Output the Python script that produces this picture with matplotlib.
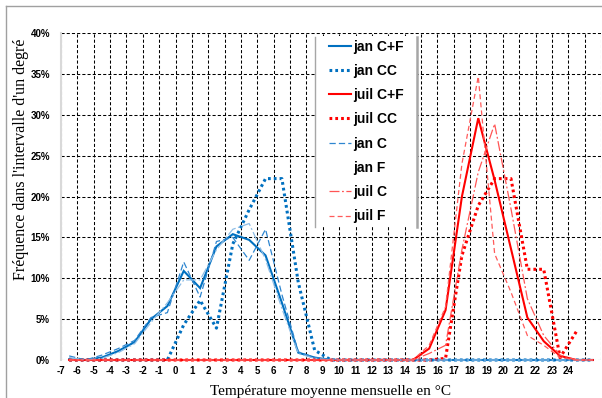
import matplotlib
matplotlib.use("Agg")
import matplotlib.pyplot as plt
from matplotlib.lines import Line2D
from matplotlib.patches import Rectangle
import numpy as np

# Bin centres (degree intervals) from -6.5 to 25.5
temps = [-6.5, -5.5, -4.5, -3.5, -2.5, -1.5, -0.5, 0.5, 1.5, 2.5, 3.5,
         4.5, 5.5, 6.5, 7.5, 8.5, 9.5, 10.5, 11.5, 12.5, 13.5, 14.5,
         15.5, 16.5, 17.5, 18.5, 19.5, 20.5, 21.5, 22.5, 23.5, 24.5, 25.5]

# Frequencies in percent
jan_cf = [0.1, 0.0, 0.3, 1.1, 2.2, 5.0, 6.6, 10.9, 8.8, 13.9, 15.4,
          14.7, 12.8, 7.0, 0.9, 0.3, 0.0, 0, 0, 0, 0, 0,
          0, 0, 0, 0, 0, 0, 0, 0, 0, 0, 0]
jan_cc = [0, 0, 0, 0, 0, 0, 0.0, 4.3, 7.3, 3.9, 14.2,
          18.4, 22.2, 22.2, 9.5, 1.2, 0.0, 0, 0, 0, 0, 0,
          0, 0, 0, 0, 0, 0, 0, 0, 0, 0, 0]
juil_cf = [0, 0, 0, 0, 0, 0, 0, 0, 0, 0, 0,
           0, 0, 0, 0, 0, 0, 0, 0, 0, 0, 0.0,
           1.4, 6.1, 20.0, 29.6, 22.0, 13.6, 5.2, 2.3, 0.5, 0.0, 0.0]
juil_cc = [0, 0, 0, 0, 0, 0, 0, 0, 0, 0, 0,
           0, 0, 0, 0, 0, 0, 0, 0, 0, 0, 0.0,
           0.0, 0.2, 12.8, 18.9, 22.2, 22.2, 11.1, 11.1, 0.3, 3.5, np.nan]
jan_c = [0.5, 0.0, 0.6, 1.4, 2.4, 5.2, 5.8, 12.0, 7.7, 14.5, 15.0,
         12.2, 16.0, 8.0, 1.0, 0.3, 0.1, 0, 0, 0, 0, 0,
         0, 0, 0, 0, 0, 0, 0, 0, 0, 0, 0]
jan_f = [0.3, 0.0, 0.2, 0.9, 2.0, 4.6, 7.0, 9.8, 9.8, 13.5, 16.0,
         16.7, 12.3, 6.3, 0.8, 0.2, 0.0, 0, 0, 0, 0, 0,
         0, 0, 0, 0, 0, 0, 0, 0, 0, 0, 0]
juil_c = [0, 0, 0, 0, 0, 0, 0, 0, 0, 0, 0,
          0, 0, 0, 0, 0, 0, 0, 0, 0, 0, 0.0,
          0.8, 1.8, 13.5, 23.0, 28.9, 18.5, 7.5, 3.0, 0.6, 0.0, 0.0]
juil_f = [0, 0, 0, 0, 0, 0, 0, 0, 0, 0, 0,
          0, 0, 0, 0, 0, 0, 0, 0, 0, 0, 0.0,
          1.8, 6.5, 24.0, 34.7, 13.0, 8.3, 3.0, 1.8, 0.3, 0.0, 0.0]

series_labels = ["jan C+F", "jan CC", "juil C+F", "juil CC",
                 "jan C", "jan F", "juil C", "juil F"]

x_ticks = list(range(-7, 27))
x_ticklabels = [str(t) for t in range(-7, 25)] + ["", ""]
y_ticks = [0, 5, 10, 15, 20, 25, 30, 35, 40]

BLUE = "#0070C0"
RED = "#FF0000"

fig = plt.figure(figsize=(6.02, 3.98), dpi=100)
W, H = 602.0, 398.0
ax = fig.add_axes([61 / W, 1 - 360 / H, 540 / W, (360 - 33) / H])

styles = [
    dict(color=BLUE, lw=1.5, ls="-"),
    dict(color=BLUE, lw=2.2, ls=(0, (0.9, 1.0))),
    dict(color=RED, lw=1.5, ls="-"),
    dict(color=RED, lw=2.2, ls=(0, (0.9, 1.0))),
    dict(color="#2E86D0", lw=0.9, ls=(0, (5, 2.5))),
    dict(color="#8DBDE6", lw=0.9, ls=(0, (8, 2, 1.5, 2))),
    dict(color="#FF5555", lw=0.9, ls=(0, (8, 2, 1.5, 2))),
    dict(color="#FF5A5A", lw=0.9, ls=(0, (4, 2.5))),
]
all_series = [jan_cf, jan_cc, juil_cf, juil_cc, jan_c, jan_f, juil_c, juil_f]
for ys, st, lab in zip(all_series, styles, series_labels):
    ax.plot(temps, ys, color=st["color"], lw=st["lw"], linestyle=st["ls"],
            label=lab, clip_on=False, zorder=3, solid_joinstyle="miter")

ax.set_xlim(-7, 26)
ax.set_ylim(0, 40.02)
ax.set_xticks(x_ticks)
ax.set_xticklabels(x_ticklabels)
ax.set_yticks(y_ticks)
ax.set_yticklabels([f"{v}%" for v in y_ticks])
ax.tick_params(axis="both", length=0, labelsize=7)
ax.tick_params(axis="x", pad=4.5)
ax.tick_params(axis="y", pad=8)
for lbl in ax.get_xticklabels() + ax.get_yticklabels():
    lbl.set_fontfamily("Liberation Sans")
    lbl.set_fontweight("bold")

ax.set_axisbelow(True)
ax.grid(True, color="black", lw=0.75, linestyle=(0, (3, 2)))
for s in ["top", "right", "bottom"]:
    ax.spines[s].set_visible(False)
ax.spines["left"].set_color("#D9D9D9")
ax.spines["left"].set_linewidth(1.5)
ax.spines["left"].set_zorder(2)

# legend background with grey side borders
ax.add_patch(Rectangle((315 / W, 1 - 227 / H), 102 / W, 191 / H,
                       transform=fig.transFigure, facecolor="white",
                       edgecolor="none", zorder=1.5, clip_on=False))
for xp, lw in [(315, 1.0), (417, 1.8)]:
    ax.add_line(Line2D([xp / W, xp / W], [1 - 227 / H, 1 - 37 / H],
                       transform=fig.transFigure, color="#A6A6A6", lw=lw,
                       zorder=1.6, clip_on=False))

handles = []
for st, lab in zip(styles, series_labels):
    col = st["color"] if lab != "jan F" else "none"
    handles.append(Line2D([], [], color=col, lw=st["lw"], linestyle=st["ls"]))
leg = ax.legend(handles, series_labels, loc="upper left",
                bbox_to_anchor=(329 / W, 1 - 39.5 / H),
                bbox_transform=fig.transFigure, frameon=False,
                borderpad=0, borderaxespad=0, handlelength=1.6,
                handletextpad=0.12, labelspacing=0.74,
                prop={"family": "Liberation Sans", "weight": "bold", "size": 10})
leg.set_zorder(5)

fig.text(25 / W, 1 - 159 / H, "Fréquence dans l'intervalle d'un degré",
         rotation=90, rotation_mode="anchor", ha="center", va="baseline",
         family="Liberation Serif", fontsize=11.5)
fig.text((61 + 270) / W, 1 - 395 / H, "Température moyenne mensuelle en °C",
         ha="center", va="baseline", family="Liberation Serif", fontsize=11)

# outer chart border
fig.add_artist(Line2D([6 / W, 6 / W], [0, 1 - 5.5 / H], transform=fig.transFigure,
                      color="#A0A0A0", lw=1.0))
fig.add_artist(Line2D([6 / W, 1], [1 - 5.5 / H, 1 - 5.5 / H], transform=fig.transFigure,
                      color="#A0A0A0", lw=1.0))

fig.savefig("out.png", dpi=100)
